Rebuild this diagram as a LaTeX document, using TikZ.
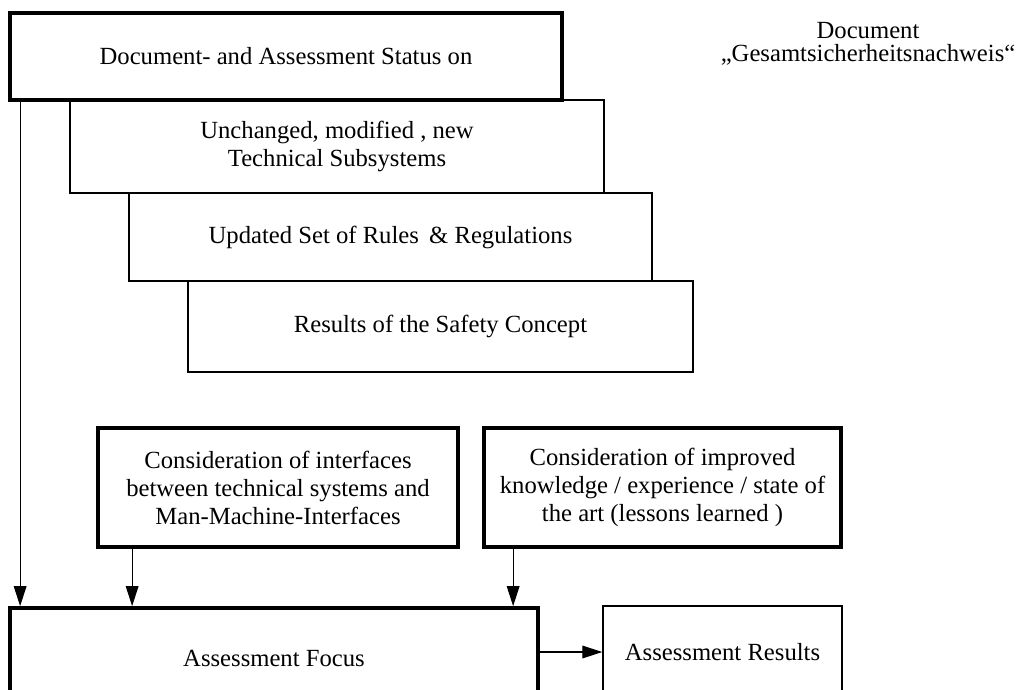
\documentclass[tikz,border=0pt]{standalone}
\usepackage{fontspec}
\setmainfont{Liberation Serif}
\usetikzlibrary{arrows.meta}
\usetikzlibrary{positioning}

\begin{document}
\begin{tikzpicture}[x=0.75pt,y=-0.75pt,
		font=\fontsize{18.5}{21}\selectfont,
		box/.style={draw,line width=1pt,align=center,inner sep=0pt},
		bigbox/.style={box,line width=2.8pt},
		arr/.style={line width=0.8pt,-{Triangle[length=15pt,width=9.5pt]}}]
		\clip (0,0) rectangle (1016,689);
		\useasboundingbox (0,0) rectangle (1016,689);
		% blocchi in cascata
		\node[box, minimum width=400.5pt, minimum height=69.75pt] (subsys) at (337,146.5) {Unchanged, modified , new\\Technical Subsystems};
		\node[box, minimum width=392.25pt, minimum height=66pt] (rules) at (390.5,237) {Updated Set of Rules \,\& Regulations};
		\node[box, minimum width=378.75pt, minimum height=68.25pt] (safety) at (440.5,326.5) {Results of the Safety Concept};
		\node[bigbox, fill=white, minimum width=414pt, minimum height=65.25pt] (status) at (286,56.5) {Document- and Assessment Status on};
		\node[font=\fontsize{18.5}{17.5}\selectfont, align=center] (doc) at (868,44) {Document\\„Gesamtsicherheitsnachweis“};
		% considerazioni
		\node[bigbox, minimum width=270pt, minimum height=89.25pt] (interf) at (278,487.5) {Consideration of interfaces\\between technical systems and\\Man-Machine-Interfaces};
		\node[bigbox, minimum width=267.75pt, minimum height=89.25pt] (lessons) at (662.5,487.5) {Consideration of improved\\knowledge / experience / state of\\the art (lessons learned )};
		% risultato
		\node[bigbox, minimum width=396pt, minimum height=75pt] (focus) at (274,658) {Assessment Focus};
		\node[box, minimum width=179.25pt, minimum height=69pt] (results) at (722.5,652) {Assessment Results};
		% collegamenti
		\draw[arr] ([xshift=9pt]status.south west) -- ([xshift=9pt]focus.north west);
		\draw[arr] ([xshift=27pt]interf.south west) -- ([xshift=27pt]interf.south west |- focus.north);
		\draw[arr] ([xshift=23.25pt]lessons.south west) -- ([xshift=23.25pt]lessons.south west |- focus.north);
		\draw[arr] (focus.east |- results.west) -- (results.west);
	\end{tikzpicture}
\end{document}
